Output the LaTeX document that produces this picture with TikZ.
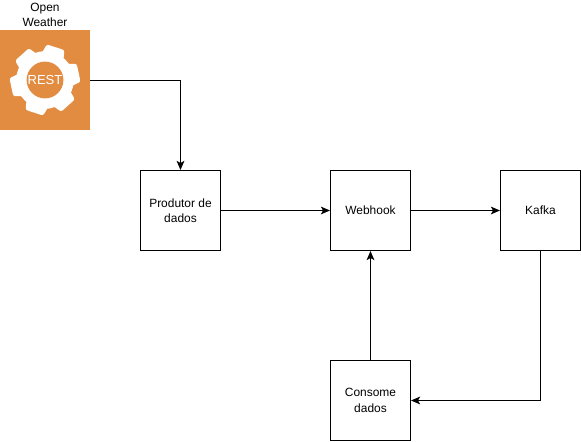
\documentclass[tikz,border=0pt]{standalone}
\usepackage{fontspec}
\setmainfont{Liberation Sans}
\usetikzlibrary{arrows.meta,calc}
\definecolor{iconorange}{RGB}{226,140,66}
\tikzset{
    box/.style={draw, line width=0.75pt, minimum width=2cm, minimum height=2cm, align=center, inner sep=0pt, font=\fontsize{8.5}{11}\selectfont},
    link/.style={draw, line width=0.75pt, -{Stealth[length=6.5pt, width=5.5pt, inset=1.6pt]}}
}
\begin{document}
\begin{tikzpicture}
        \useasboundingbox (0,0) rectangle (14.525,11.025);

        % Icon
        \fill[iconorange] (0,7.775) rectangle (2.26,10.275);
        \coordinate (gear) at (1.125,9.025);
        \fill[white] (gear) circle (0.72);
        \foreach \a in {12,72,...,312}
            \fill[white, rounded corners=1.5pt] ($(gear)+(\a-26:0.66)$) -- ($(gear)+(\a-15:0.89)$) -- ($(gear)+(\a+15:0.89)$) -- ($(gear)+(\a+26:0.66)$) -- cycle;
        \fill[iconorange] (gear) circle (0.46);
        \node[text=white, inner sep=0pt, font=\fontsize{9.3}{11}\selectfont] (rest) at (gear) {REST};
        \node[inner sep=0pt, align=center, anchor=south, font=\fontsize{8.5}{10.7}\selectfont] (weather) at (1.125,10.34) {Open\\Weather};

        % Boxes
        \node[box] (produtor) at (4.5125,5.7625) {Produtor de\\dados};
        \node[box] (webhook) at (9.2625,5.7625) {Webhook};
        \node[box] (kafka) at (13.5125,5.7625) {Kafka};
        \node[box] (consome) at (9.2625,1.0125) {Consome\\dados};
        \coordinate (iconright) at (2.26,9.0125);

        % Drawing
        \draw[link] (iconright) -| (produtor.north);
        \draw[link] (produtor) -- (webhook);
        \draw[link] (webhook) -- (kafka);
        \draw[link] (kafka.south) |- (consome.east);
        \draw[link] (consome) -- (webhook);
\end{tikzpicture}
\end{document}
